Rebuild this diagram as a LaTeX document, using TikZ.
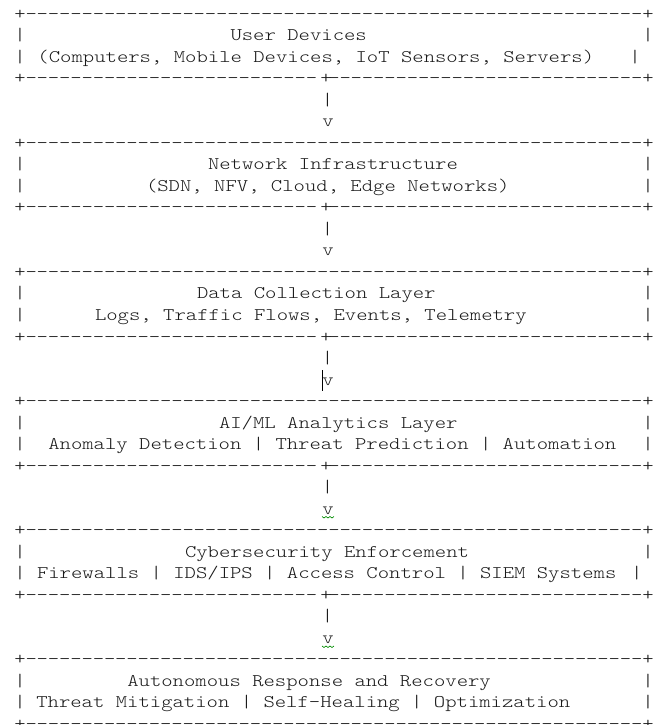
\documentclass[tikz,border=0pt]{standalone}
\usepackage{fontspec}
\setmonofont{lmmonolt10-regular.otf}
\newcommand{\sq}[1]{\scalebox{1}[0.82]{#1}}
\tikzset{
  ch/.style={inner sep=0pt, outer sep=0pt, anchor=base,
    font=\ttfamily\fontsize{16.23}{16.23}\selectfont, text=black!90},
  txt/.style={ch, anchor=base west},
}
\newcommand{\RY}[1]{(19.2+21.52*(#1))}
\begin{document}
\begin{tikzpicture}[x=0.75pt,y=-0.75pt]
\useasboundingbox (0,0) rectangle (657,725);
\clip (0,0) rectangle (657,725);
\fill[white] (0,0) rectangle (657,725);

% border rows (ASCII box edges)
\foreach \r/\mid in {0/0,3/1,6/0,9/1,12/0,15/1,18/0,21/1,24/0,27/1,30/0,33/0} {
  \foreach \i in {0,...,56} {
    \pgfmathtruncatemacro\isplus{((\i==0)||(\i==56)||((\mid==1)&&(\i==27)))?1:0}
    \pgfmathsetmacro\xx{((\mid==1)&&(\i==27))?326:(20+11.214*\i)}
    \node[ch] (b\r-\i) at (\xx, {\RY{\r}}) {\sq{\ifnum\isplus=1 +\else -\fi}};
  }
}

% content rows: left bar, text, right bar
\foreach \r/\xs/\t/\xr [count=\k] in {
  1/230.5/{User Devices}/648,
  2/37.5/{(Computers, Mobile Devices, IoT Sensors, Servers)}/635,
  7/208/{Network Infrastructure}/648,
  8/146/{(SDN, NFV, Cloud, Edge Networks)}/648,
  13/197/{Data Collection Layer}/648,
  14/95/{Logs, Traffic Flows, Events, Telemetry}/648,
  19/219/{AI/ML Analytics Layer}/648,
  20/48.3/{Anomaly Detection | Threat Prediction | Automation}/648,
  25/185/{Cybersecurity Enforcement}/648,
  26/37/{Firewalls | IDS/IPS | Access Control | SIEM Systems}/636.7,
  31/127.3/{Autonomous Response and Recovery}/648,
  32/36.3/{Threat Mitigation | Self-Healing | Optimization}/648} {
  \node[ch] (l\k) at (20, {\RY{\r}}) {\sq{|}};
  \node[txt] (t\k) at (\xs, {\RY{\r}}) {\sq{\t}};
  \node[ch] (r\k) at (\xr, {\RY{\r}}) {\sq{|}};
}

% ASCII arrows between layers
\foreach \r [count=\k] in {4,10,16,22,28} {
  \node[ch] (bar\k) at (327.5, {\RY{\r}}) {\sq{|}};
  \node[ch] (v\k) at (328, {\RY{\r+1}}) {\sq{v}};
}

% editor artifacts visible in the screenshot
\draw[black, line width=1pt] (322.7,370) -- (322.7,391);
\foreach \yy in {516.5, 646} {
  \draw[green!55!black, line width=0.5pt]
    (322,\yy) -- (324,{\yy+1.5}) -- (326,\yy) -- (328,{\yy+1.5}) -- (330,\yy) -- (332,{\yy+1.5}) -- (334,\yy);
}
\end{tikzpicture}
\end{document}
